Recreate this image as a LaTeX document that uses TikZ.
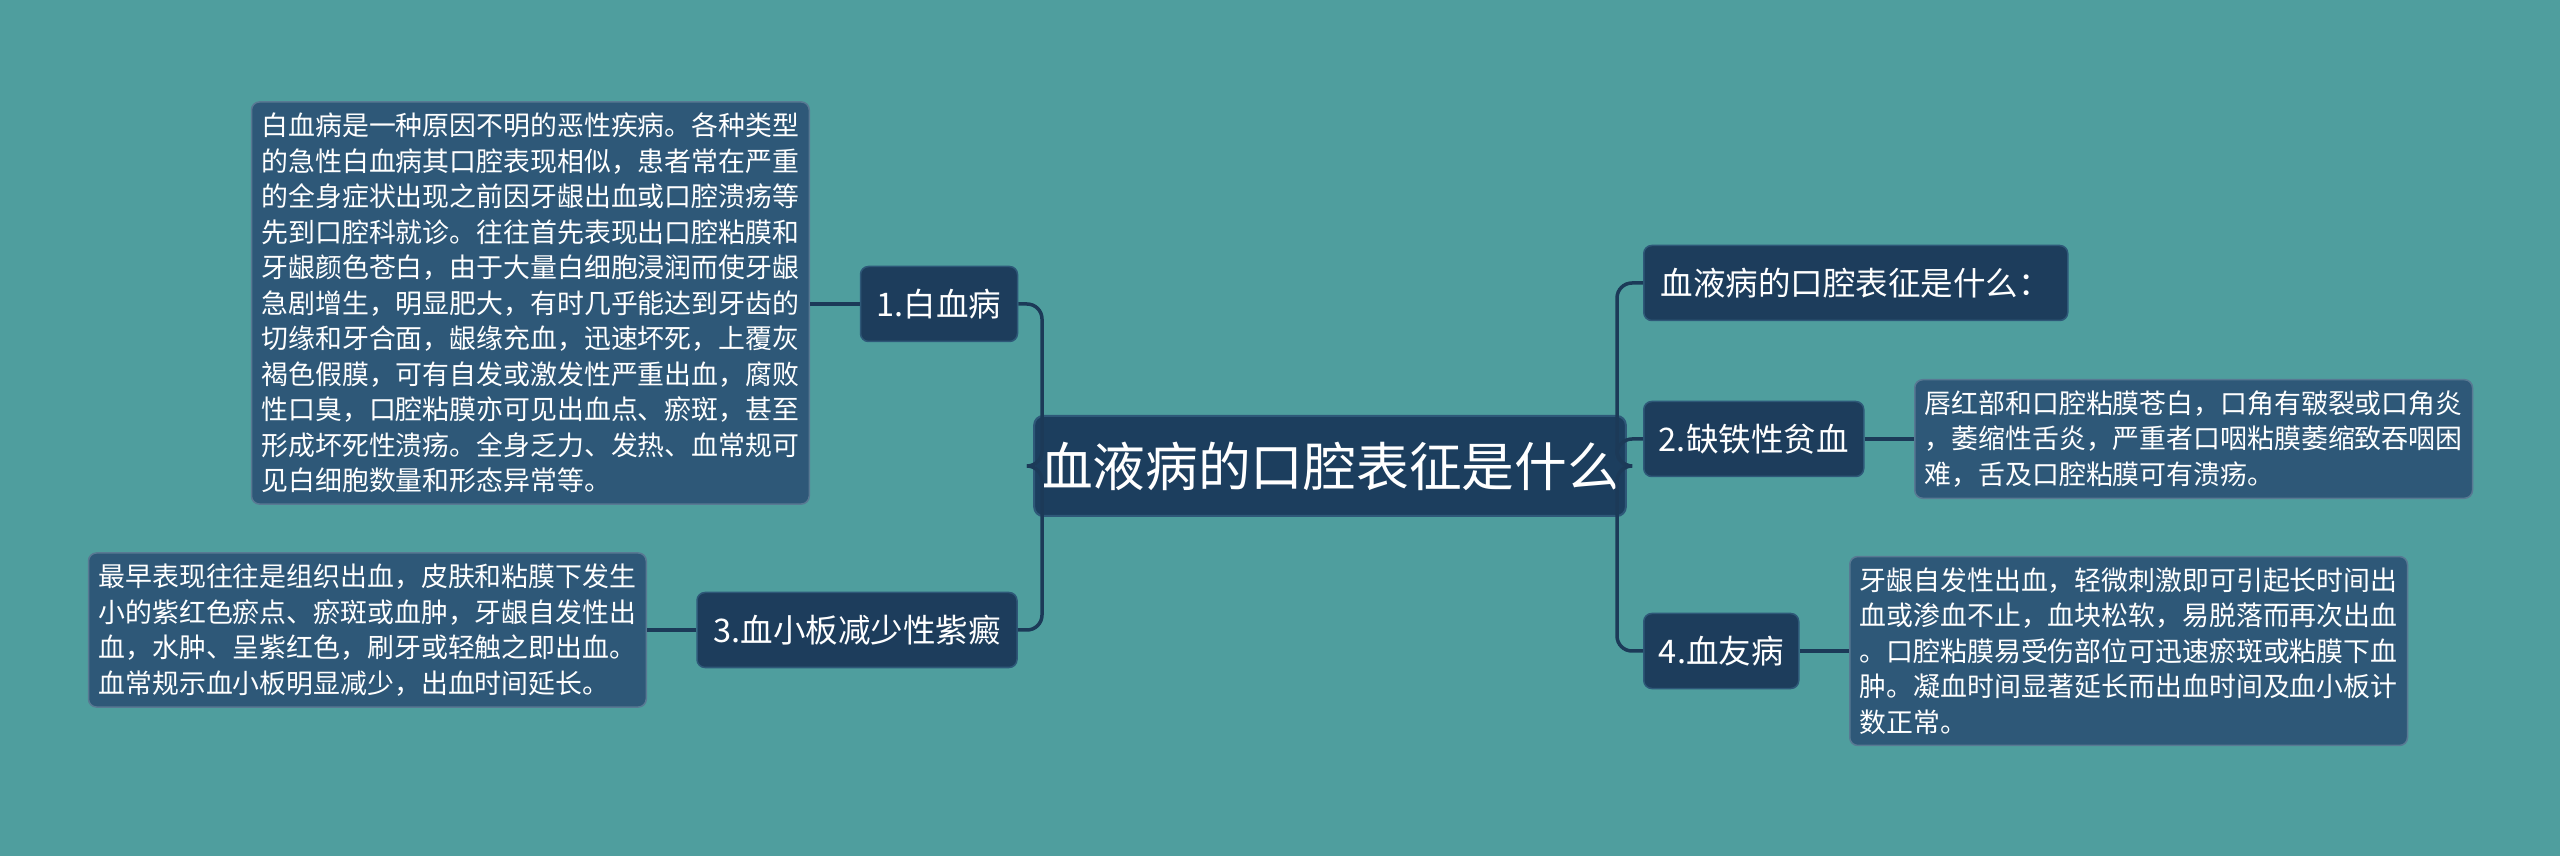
\documentclass[tikz,border=0pt]{standalone}
\usepackage{fontspec}
\setmainfont{Noto Sans CJK SC}
\usetikzlibrary{positioning}
\definecolor{bgteal}{HTML}{4F9E9E}
\definecolor{hubnavy}{HTML}{1C3E5E}
\definecolor{branchnavy}{HTML}{1D3D5C}
\definecolor{leafblue}{HTML}{2E5878}
\definecolor{edgeline}{HTML}{1C3A58}
\begin{document}
\begin{tikzpicture}[
      x=0.2mm, y=-0.2mm,
      hub/.style={rectangle,rounded corners=1.8mm,fill=hubnavy,draw=leafblue,line width=0.4mm,text=white,font=\fontsize{30pt}{36pt}\selectfont,minimum width=104.8mm,minimum height=20mm},
      branch/.style={rectangle,rounded corners=1.6mm,fill=branchnavy,draw=leafblue,line width=0.3mm,text=white,font=\fontsize{18.5pt}{22pt}\selectfont,minimum height=15mm},
      leaf/.style={rectangle,rounded corners=1.6mm,fill=leafblue,draw=leafblue!80!white,line width=0.3mm,text=white,align=left,font=\fontsize{15.3pt}{20.2pt}\selectfont,inner xsep=2mm,inner ysep=2.2mm},
      link/.style={draw=edgeline,line width=0.7mm,rounded corners=3mm}
    ]
    \fill[bgteal] (0,0) rectangle (2560,856);
    \useasboundingbox (0,0) rectangle (2560,856);

    \node[hub] (hub) at (1330,466) {血液病的口腔表征是什么};

    % left side
    \node[branch,minimum width=31.4mm] (leuk) at (939,304) {1.白血病};
    \node[branch,minimum width=64mm] (purp) at (857,630) {3.血小板减少性紫癜};
    \node[leaf,anchor=east] (leukT) at (810,303) {白血病是一种原因不明的恶性疾病。各种类型\\的急性白血病其口腔表现相似，患者常在严重\\的全身症状出现之前因牙龈出血或口腔溃疡等\\先到口腔科就诊。往往首先表现出口腔粘膜和\\牙龈颜色苍白，由于大量白细胞浸润而使牙龈\\急剧增生，明显肥大，有时几乎能达到牙齿的\\切缘和牙合面，龈缘充血，迅速坏死，上覆灰\\褐色假膜，可有自发或激发性严重出血，腐败\\性口臭，口腔粘膜亦可见出血点、瘀斑，甚至\\形成坏死性溃疡。全身乏力、发热、血常规可\\见白细胞数量和形态异常等。};
    \node[leaf,anchor=east] (purpT) at (647,630) {最早表现往往是组织出血，皮肤和粘膜下发生\\小的紫红色瘀点、瘀斑或血肿，牙龈自发性出\\血，水肿、呈紫红色，刷牙或轻触之即出血。\\血常规示血小板明显减少，出血时间延长。};

    % right side
    \node[branch,minimum width=84.8mm,anchor=west] (title) at (1643,283) {血液病的口腔表征是什么：};
    \node[branch,minimum width=44mm,anchor=west] (iron) at (1643,439) {2.缺铁性贫血};
    \node[branch,minimum width=31mm,anchor=west] (hemo) at (1643,651) {4.血友病};
    \node[leaf,anchor=west] (ironT) at (1914,439) {唇红部和口腔粘膜苍白，口角有皲裂或口角炎\\，萎缩性舌炎，严重者口咽粘膜萎缩致吞咽困\\难，舌及口腔粘膜可有溃疡。};
    \node[leaf,anchor=west] (hemoT) at (1849,651) {牙龈自发性出血，轻微刺激即可引起长时间出\\血或渗血不止，血块松软，易脱落而再次出血\\。口腔粘膜易受伤部位可迅速瘀斑或粘膜下血\\肿。凝血时间显著延长而出血时间及血小板计\\数正常。};

    \coordinate (lbus) at (1042,466);
    \coordinate (rbus) at (1617,466);

    \draw[link] (hub.west) -- (lbus) |- (leuk.east);
    \draw[link] (hub.west) -- (lbus) |- (purp.east);
    \draw[link] (hub.east) -- (rbus) |- (title.west);
    \draw[link] (hub.east) -- (rbus) |- (iron.west);
    \draw[link] (hub.east) -- (rbus) |- (hemo.west);
    \draw[link] (leuk.west) -- (leukT.east |- leuk.west);
    \draw[link] (purp.west) -- (purpT.east |- purp.west);
    \draw[link] (iron.east) -- (ironT.west |- iron.east);
    \draw[link] (hemo.east) -- (hemoT.west |- hemo.east);
  \end{tikzpicture}
\end{document}
